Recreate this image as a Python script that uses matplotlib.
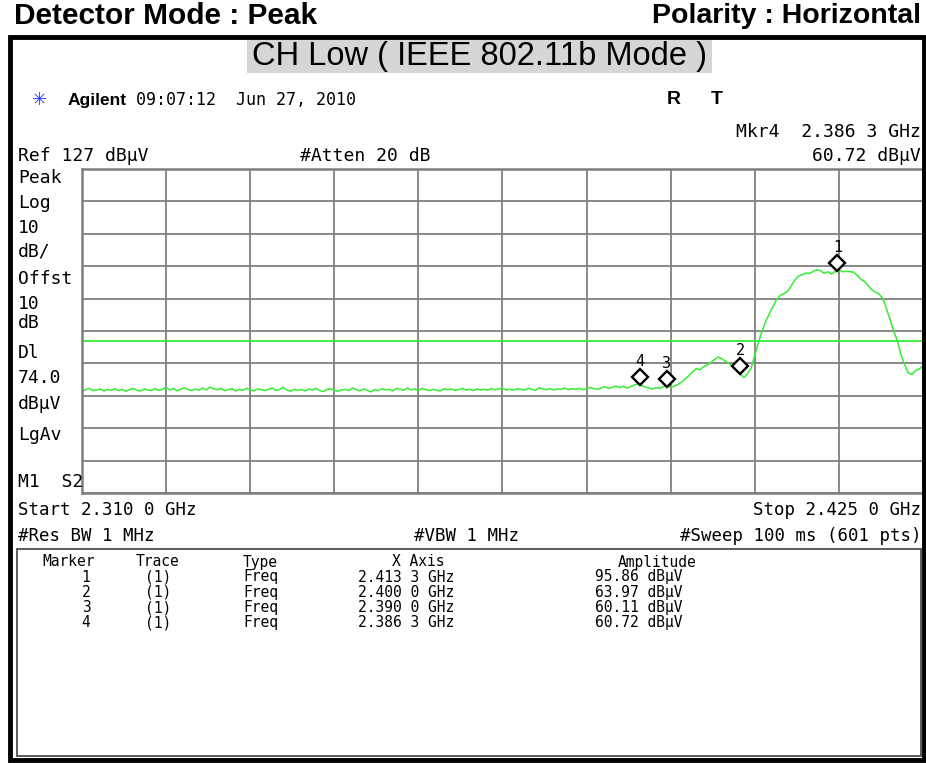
import numpy as np
import matplotlib
matplotlib.use("Agg")
import matplotlib.pyplot as plt
from matplotlib.patches import Rectangle
from matplotlib.transforms import offset_copy

W, H = 926, 763

# sweep settings
f_start, f_stop, n_pts = 2.310, 2.425, 231
ref_level = 127
db_per_div = 10
display_line = 74.0

# trace levels (dBuV) at 0.5 MHz steps
floor_levels = [
    58.4, 58.9, 59.3, 58.6, 58.8, 59.1, 58.5, 58.9, 58.7, 59.2,
    58.6, 59.0, 58.4, 58.9, 59.3, 58.7, 58.5, 59.1, 58.8, 58.6,
    59.2, 58.7, 59.0, 59.6, 58.8, 59.3, 58.5, 59.0, 59.5, 58.9,
    58.6, 59.1, 58.7, 59.4, 58.8, 59.7, 59.2, 58.9, 59.3, 58.6,
    58.9, 59.2, 58.5, 59.0, 58.7, 59.3, 58.8, 58.5, 59.1, 58.9,
    58.6, 59.0, 59.4, 58.7, 58.9, 59.6, 58.8, 58.4, 59.0, 58.7,
    58.9, 58.5, 59.1, 58.8, 59.3, 58.6, 58.3, 58.9, 59.2, 58.7,
    58.4, 58.8, 59.0, 58.6, 59.4, 58.9, 58.5, 59.1, 58.7, 58.2,
    58.9, 58.6, 59.2, 58.8, 59.0, 58.5, 59.3, 59.0, 58.7, 59.4,
    58.8, 59.1, 58.6, 59.3, 58.9, 58.6, 59.0, 58.7, 58.5, 59.2,
    58.9, 59.1, 58.7, 58.9, 59.3, 58.8, 59.0, 58.6, 59.1, 58.8,
    59.0, 58.7, 59.3, 58.9, 59.1, 59.4, 58.8, 59.0, 58.7, 59.2,
    59.0, 58.8, 59.3, 59.0, 58.7, 59.5, 59.1, 58.9, 59.2, 58.8,
    59.1, 59.0, 59.4, 58.9, 59.2, 59.0, 59.3, 58.9, 59.1, 59.6,
    59.2, 59.0, 59.4, 59.8, 59.3, 59.6, 60.0, 59.5, 59.9, 59.4,
    59.8, 60.3, 60.7, 60.2, 59.7, 59.4, 59.1, 59.5, 59.3, 59.8,
]
signal_levels = [
    60.1, 59.6, 60.0, 60.5, 61.3, 62.3, 63.2, 64.4, 65.4, 65.0,
    66.0, 66.5, 67.3, 68.2, 69.0, 68.4, 67.6, 67.0, 65.8, 64.9,
    64.0, 62.6, 63.8, 65.5, 69.5, 73.5, 77.0, 80.0, 82.4, 84.6,
    86.8, 88.0, 88.6, 89.3, 91.0, 92.8, 94.0, 94.4, 94.9, 94.7,
    95.4, 95.9, 95.6, 94.8, 95.3, 94.6, 95.4, 95.9, 95.3, 95.4,
    95.3, 95.2, 94.2, 93.0, 92.3, 91.0, 89.7, 89.0, 88.4, 87.0,
    84.0, 80.5, 77.0, 74.0, 69.5, 66.5, 64.0, 63.6, 64.8, 65.3,
    66.2,
]
levels = floor_levels + signal_levels

# markers
mkr_ids = ["1", "2", "3", "4"]
mkr_freq = [2.4133, 2.4000, 2.3900, 2.3863]
mkr_amp = [95.86, 63.97, 60.11, 60.72]
mkr_freq_txt = ["2.413 3 GHz", "2.400 0 GHz", "2.390 0 GHz", "2.386 3 GHz"]
mkr_amp_txt = ["95.86 dBµV", "63.97 dBµV", "60.11 dBµV", "60.72 dBµV"]

freqs = np.linspace(f_start, f_stop, n_pts)

fig = plt.figure(figsize=(W / 100, H / 100), dpi=100)
fig.patch.set_facecolor("white")

mono = "DejaVu Sans Mono"
arial = "Liberation Sans"


def txt(x, y, s, **kw):
    kw.setdefault("family", mono)
    kw.setdefault("size", 13)
    kw.setdefault("va", "center")
    fig.text(x / W, 1 - y / H, s, **kw)


# headers above the screen
txt(14, 16, "Detector Mode : Peak", family=arial, weight="bold", size=21.5)
txt(921, 16, "Polarity : Horizontal", family=arial, weight="bold", size=20.5, ha="right")

# outer frame
fig.patches.append(Rectangle((10 / W, 1 - 760 / H), 914 / W, 723 / H,
                             transform=fig.transFigure, fill=False,
                             edgecolor="black", linewidth=3.5))
# title box
fig.patches.append(Rectangle((247 / W, 1 - 73 / H), 465 / W, 33 / H,
                             transform=fig.transFigure, facecolor="#d6d6d6",
                             edgecolor="none"))
txt(479, 57, "CH Low ( IEEE 802.11b Mode )", family=arial, size=23.5, ha="center")

# instrument status lines
fig.text(40 / W, 1 - 100 / H, "✳", color="#2a3cff", size=13, ha="center", va="center",
         family="DejaVu Sans")
txt(68, 100, "Agilent", family=arial, weight="bold", size=12.5)
txt(136, 100, "09:07:12  Jun 27, 2010", size=12)
txt(667, 100, "R", family=arial, weight="bold", size=14)
txt(711, 100, "T", family=arial, weight="bold", size=14)
txt(921, 132, "Mkr4  2.386 3 GHz", ha="right")
txt(18, 156, "Ref 127 dBµV")
txt(300, 156, "#Atten 20 dB")
txt(921, 156, "60.72 dBµV", ha="right")

side = [("Peak", 178), ("Log", 203), ("10", 228), ("dB/", 251), ("Offst", 279),
        ("10", 304), ("dB", 323), ("Dl", 353), ("74.0", 378), ("dBµV", 404),
        ("LgAv", 435), ("M1  S2", 482)]
for s, y in side:
    txt(18, y, s)

txt(18, 510, "Start 2.310 0 GHz", size=12.5)
txt(921, 510, "Stop 2.425 0 GHz", ha="right", size=12.5)
txt(18, 536, "#Res BW 1 MHz", size=12.5)
txt(414, 536, "#VBW 1 MHz", size=12.5)
txt(921, 536, "#Sweep 100 ms (601 pts)", ha="right", size=12.5)

# trace window
ax = fig.add_axes([82 / W, 1 - 493 / H, 841 / W, 324 / H])
ax.set_xlim(f_start, f_stop)
ax.set_ylim(ref_level - 10 * db_per_div, ref_level)
ax.set_xticks(np.linspace(f_start, f_stop, 11))
ax.set_yticks(np.arange(ref_level - 100, ref_level + 1, db_per_div))
ax.grid(True, color="#7f7f7f", linewidth=1.3)
ax.tick_params(length=0, labelbottom=False, labelleft=False)
for sp in ax.spines.values():
    sp.set_color("#7f7f7f")
    sp.set_linewidth(1.8)
ax.axhline(display_line, color="#33ee33", linewidth=1.3)
ax.plot(freqs, levels, color="#33ee33", linewidth=1.1)

up = offset_copy(ax.transData, fig=fig, x=0, y=5, units="points")
ax.plot(mkr_freq, mkr_amp, linestyle="none", marker="D", markersize=8,
        markerfacecolor="white", markeredgecolor="black", markeredgewidth=1.7,
        transform=up)
lab = offset_copy(ax.transData, fig=fig, x=0, y=16, units="points")
for m, f, a in zip(mkr_ids, mkr_freq, mkr_amp):
    ax.text(f, a, m, transform=lab, ha="center", va="center", family=mono, size=11)

# marker table
fig.patches.append(Rectangle((17 / W, 1 - 756 / H), 904 / W, 207 / H,
                             transform=fig.transFigure, fill=False,
                             edgecolor="#404040", linewidth=1.2))
ts = 10.5
txt(69, 562, "Marker", size=ts, ha="center")
txt(158, 562, "Trace", size=ts, ha="center")
txt(243, 562, "Type", size=ts)
txt(418, 562, "X Axis", size=ts, ha="center")
txt(657, 562, "Amplitude", size=ts, ha="center")
for i in range(len(mkr_ids)):
    y = 577 + i * 15.3
    txt(86, y, mkr_ids[i], size=ts, ha="center")
    txt(158, y, "(1)", size=ts, ha="center")
    txt(243, y, "Freq", size=ts)
    txt(358, y, mkr_freq_txt[i], size=ts)
    txt(595, y, mkr_amp_txt[i], size=ts)

fig.savefig("out.png", dpi=100)
